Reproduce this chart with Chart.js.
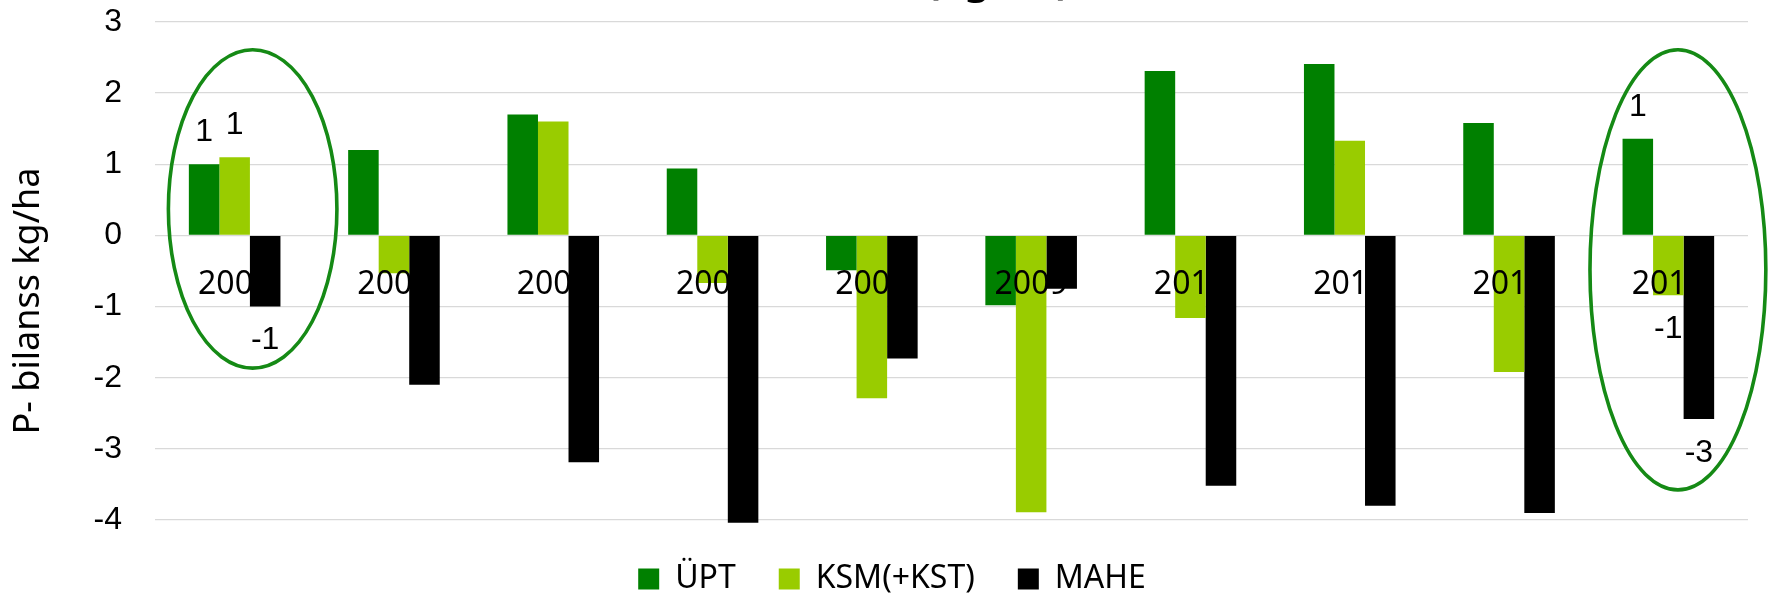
<!DOCTYPE html>
<html>
<head>
<meta charset="utf-8">
<script src="https://cdn.jsdelivr.net/npm/chart.js@4.4.1/dist/chart.umd.min.js"></script>
<style>
  html, body { margin: 0; padding: 0; background: #fff; }
  #wrap { width: 1769px; height: 596px; position: relative; }
</style>
</head>
<body>
<div id="wrap"><canvas id="chart"></canvas></div>
<script>
const years = ['2004', '2005', '2006', '2007', '2008', '2009', '2010', '2011', '2012', '2013'];
const upt = [1.0, 1.2, 1.7, 0.94, -0.49, -0.98, 2.31, 2.41, 1.58, 1.36];
const ksm = [1.1, -0.53, 1.6, -0.67, -2.29, -3.89, -1.16, 1.33, -1.92, -0.84];
const mahe = [-1.0, -2.1, -3.19, -4.04, -1.73, -0.75, -3.52, -3.8, -3.9, -2.58];
// years that get rounded value labels on every bar
const labelledYears = ['2004', '2013'];
const yMin = -4;
const yMax = 3;

// circled groups, in category / value units
const circles = [
  { year: '2004', shift: 0.113, halfWidth: 0.529, top: 2.61, bottom: -1.865 },
  { year: '2013', shift: 0.06, halfWidth: 0.552, top: 2.61, bottom: -3.577 }
];

const extras = {
  id: 'extras',
  afterDatasetsDraw(chart) {
    const { ctx, scales: { x, y } } = chart;
    const catW = x.getPixelForValue(1) - x.getPixelForValue(0);

    ctx.save();
    ctx.strokeStyle = '#158a15';
    ctx.lineWidth = 3.6;
    circles.forEach(c => {
      const cx = x.getPixelForValue(years.indexOf(c.year)) + c.shift * catW;
      const top = y.getPixelForValue(c.top);
      const bottom = y.getPixelForValue(c.bottom);
      ctx.beginPath();
      ctx.ellipse(cx, (top + bottom) / 2, c.halfWidth * catW, (bottom - top) / 2, 0, 0, Math.PI * 2);
      ctx.stroke();
    });

    ctx.fillStyle = '#000';
    ctx.font = '32px "Liberation Sans", Arial, sans-serif';
    ctx.textAlign = 'center';
    ctx.textBaseline = 'middle';
    chart.data.datasets.forEach((ds, di) => {
      const meta = chart.getDatasetMeta(di);
      labelledYears.forEach(yr => {
        const i = years.indexOf(yr);
        const v = ds.data[i];
        const el = meta.data[i];
        const ty = v >= 0 ? el.y - 32 : el.y + 34;
        ctx.fillText(String(Math.round(v)), el.x, ty);
      });
    });
    ctx.restore();
  },
  afterDraw(chart) {
    const { ctx } = chart;
    ctx.save();
    ctx.fillStyle = '#000';
    // axis title
    ctx.translate(29, 301);
    ctx.rotate(-Math.PI / 2);
    ctx.font = '36px "Noto Sans", sans-serif';
    ctx.textAlign = 'center';
    ctx.textBaseline = 'middle';
    ctx.fillText('P- bilanss kg/ha', 0, 0);
    ctx.restore();

    // chart title, sits mostly above the canvas
    ctx.save();
    ctx.fillStyle = '#000';
    ctx.font = 'bold 40px "Noto Sans", sans-serif';
    ctx.textAlign = 'right';
    ctx.textBaseline = 'alphabetic';
    ctx.fillText('P- bilanss (kg/ha)', 1070, -6);
    ctx.restore();
  }
};

new Chart(document.getElementById('chart'), {
  type: 'bar',
  data: {
    labels: years,
    datasets: [
      { label: 'ÜPT', data: upt, backgroundColor: '#008000' },
      { label: 'KSM(+KST)', data: ksm, backgroundColor: '#99cc00' },
      { label: 'MAHE', data: mahe, backgroundColor: '#000000' }
    ]
  },
  options: {
    responsive: true,
    maintainAspectRatio: false,
    animation: false,
    devicePixelRatio: 1,
    clip: false,
    datasets: {
      bar: { categoryPercentage: 0.575, barPercentage: 1.0, borderWidth: 0 }
    },
    layout: { padding: { left: 36, right: 21, top: 22, bottom: -9 } },
    scales: {
      x: {
        position: { y: 0 },
        grid: { display: false, drawTicks: false },
        border: { display: false },
        ticks: {
          z: 1,
          color: '#000',
          padding: 30,
          maxRotation: 0,
          autoSkip: false,
          font: { family: '"Noto Sans", sans-serif', size: 32 }
        }
      },
      y: {
        min: yMin,
        max: yMax,
        afterFit(scale) {
          scale.width = 119;
          scale.paddingTop = 0;
          scale.paddingBottom = 0;
        },
        grid: { color: '#d9d9d9', lineWidth: 1.3, drawTicks: false },
        border: { display: false },
        ticks: {
          stepSize: 1,
          color: '#000',
          padding: 33,
          font: { family: '"Liberation Sans", Arial, sans-serif', size: 32 }
        }
      }
    },
    plugins: {
      legend: {
        position: 'bottom',
        labels: {
          color: '#000',
          boxWidth: 21,
          boxHeight: 21,
          padding: 43,
          font: { family: '"Noto Sans", sans-serif', size: 32 }
        }
      },
      title: { display: false },
      tooltip: { enabled: false }
    }
  },
  plugins: [extras]
});
</script>
</body>
</html>
